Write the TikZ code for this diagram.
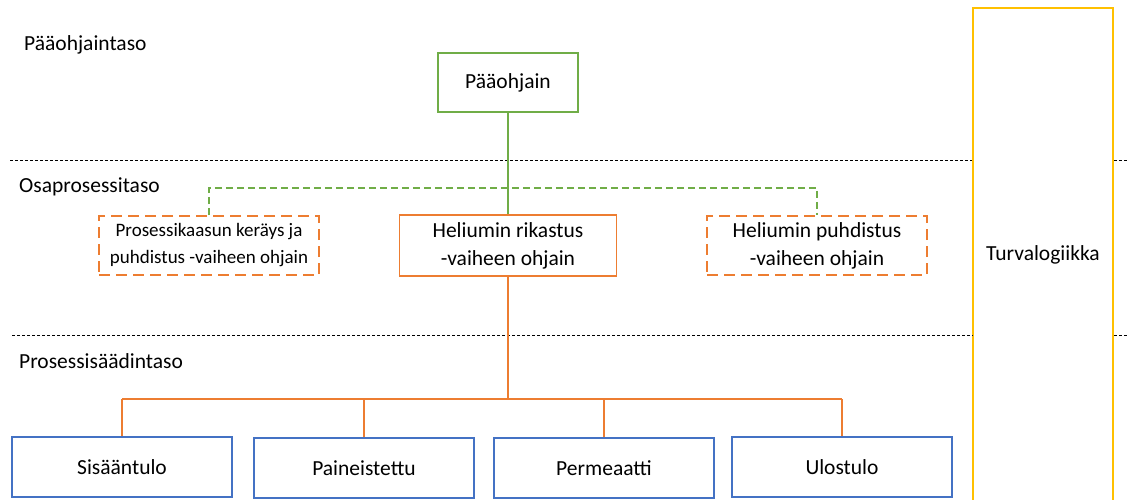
\documentclass[tikz,border=0pt]{standalone}
\usepackage{fontspec}
\setmainfont{Carlito}
\definecolor{cgreen}{HTML}{70AD47}
\definecolor{corange}{HTML}{ED7D31}
\definecolor{cblue}{HTML}{4472C4}
\definecolor{cyellow}{HTML}{FFC000}
\tikzset{
  lvl/.style={anchor=west, inner sep=0pt, font=\fontsize{21.5}{25}\selectfont},
  box/.style={draw, line width=1.6pt, align=center, inner sep=2pt,
    font=\fontsize{21.5}{28}\selectfont},
  mainbox/.style={box, draw=cgreen, minimum width=140pt, minimum height=59pt},
  subbox/.style={box, draw=corange, minimum width=217pt, minimum height=61pt},
  subdash/.style={box, draw=corange, dash pattern=on 11pt off 6pt,
    minimum width=220pt, minimum height=59pt},
  ctrlbox/.style={box, draw=cblue, minimum width=220pt, minimum height=60pt},
  safety/.style={box, draw=cyellow, minimum width=140pt, minimum height=494pt},
  levelline/.style={draw=black, line width=1pt, dash pattern=on 3pt off 2pt},
  greenlink/.style={draw=cgreen, line width=2pt},
  greendash/.style={draw=cgreen, line width=1.6pt, dash pattern=on 7pt off 4pt},
  orangelink/.style={draw=corange, line width=2pt},
}
\begin{document}
\begin{tikzpicture}[x=1pt,y=-1pt]
\useasboundingbox (0,0) rectangle (1129,499);

% level labels
\node[lvl] (l1) at (24,45) {Pääohjaintaso};
\node[lvl] (l2) at (19,187) {Osaprosessitaso};
\node[lvl] (l3) at (19,361) {Prosessisäädintaso};

% safety logic column
\node[safety] (turva) at (1043,255) {Turvalogiikka};

% level separators
\coordinate (s1a) at (10,160);
\coordinate (s1b) at (1129,160);
\coordinate (s2a) at (12,335);
\coordinate (s2b) at (1129,335);
\draw[levelline] (s1a) -- (s1a -| turva.west);
\draw[levelline] (s1b -| turva.east) -- (s1b);
\draw[levelline] (s2a) -- (s2a -| turva.west);
\draw[levelline] (s2b -| turva.east) -- (s2b);

% controllers
\node[mainbox] (paa) at (508,82.5) {Pääohjain};
\node[subbox] (rik) at (508,245.5) {Heliumin rikastus\\-vaiheen ohjain};
\node[subdash, font=\fontsize{19}{27}\selectfont] (ker) at (209,245.5)
  {Prosessikaasun keräys ja\\puhdistus -vaiheen ohjain};
\node[subdash] (puh) at (817,245.5) {Heliumin puhdistus\\-vaiheen ohjain};

\node[ctrlbox] (b1) at (122,467) {Sisääntulo};
\node[ctrlbox] (b2) at (364,468) {Paineistettu};
\node[ctrlbox] (b3) at (604,468) {Permeaatti};
\node[ctrlbox] (b4) at (842,467) {Ulostulo};

% links from the main controller
\draw[greenlink] (paa.south) -- (rik.north);
\coordinate (gbus) at (0,188);
\draw[greendash] (ker.north) -- (ker.north |- gbus) -- (puh.north |- gbus) -- (puh.north);

% links to process controllers
\coordinate (obus) at (0,399);
\draw[orangelink] (rik.south) -- (rik.south |- obus);
\draw[orangelink] (b1.north |- obus) -- (b4.north |- obus);
\foreach \b in {b1,b2,b3,b4}
  \draw[orangelink] (\b.north |- obus) -- (\b.north);
\end{tikzpicture}
\end{document}
